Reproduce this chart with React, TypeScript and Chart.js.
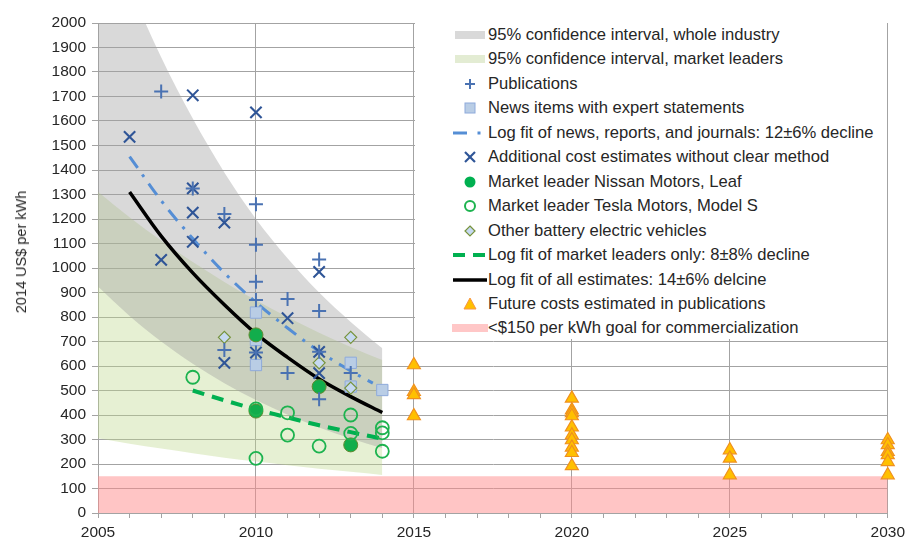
import React, { useEffect, useRef } from "react";
import { Chart, registerables } from "chart.js";

Chart.register(...registerables);

const FONT = "'Liberation Sans', Arial, Helvetica, sans-serif";
const GRID = "#a3a3a3";

// 95% confidence bands (value per year)
const bandYears = [2005, 2006, 2007, 2008, 2009, 2010, 2011, 2012, 2013, 2014];
const industryUpper = [2480, 2150, 1860, 1610, 1390, 1200, 1040, 900, 780, 672];
const industryLower = [924, 804, 700, 609, 530, 461, 401, 349, 304, 264];
const leadersUpper = [1311, 1207, 1112, 1024, 943, 868, 800, 736, 678, 624];
const leadersLower = [305, 283, 263, 244, 226, 210, 195, 181, 168, 155];

// Commercialization goal band
const goalYears = [2005, 2030];
const goalValues = [150, 150];

// Fit lines
const allFitYears = [2006, 2007, 2008, 2009, 2010, 2011, 2012, 2013, 2014];
const allFitValues = [1310, 1130, 980, 850, 732, 635, 547, 475, 410];
const newsFitYears = [2006, 2007, 2008, 2009, 2010, 2011, 2012, 2013, 2013.7];
const newsFitValues = [1455, 1275, 1120, 980, 860, 755, 660, 580, 530];
const leadersFitYears = [2008, 2009, 2010, 2011, 2012, 2013, 2014];
const leadersFitValues = [500, 460, 423, 390, 358, 330, 303];

// Publications (+)
const pubYears = [2007, 2008, 2009, 2009, 2010, 2010, 2010, 2010, 2010, 2011, 2011, 2012, 2012, 2012, 2012, 2013];
const pubValues = [1720, 1325, 1220, 665, 1260, 1095, 944, 869, 655, 873, 571, 1035, 824, 658, 464, 571];

// News items with expert statements (squares)
const newsYears = [2010, 2010, 2010, 2013, 2013, 2014];
const newsValues = [818, 706, 604, 613, 516, 502];

// Additional cost estimates without clear method (x)
const addYears = [2006, 2008, 2010, 2008, 2008, 2009, 2008, 2007, 2012, 2011, 2010, 2009, 2012, 2012];
const addValues = [1535, 1705, 1635, 1325, 1226, 1185, 1107, 1033, 984, 795, 655, 613, 658, 571];

// Nissan Leaf (filled circles)
const nissanYears = [2010, 2010, 2012, 2013];
const nissanValues = [727, 416, 516, 278];

// Tesla Model S (open circles)
const teslaYears = [2008, 2010, 2010, 2011, 2011, 2012, 2013, 2013, 2014, 2014, 2014];
const teslaValues = [554, 425, 223, 409, 318, 273, 400, 325, 348, 327, 252];

// Other battery electric vehicles (diamonds)
const otherYears = [2009, 2013, 2012, 2013];
const otherValues = [717, 717, 613, 510];

// Future costs estimated in publications (triangles)
const futureYears = [2015, 2015, 2015, 2015, 2020, 2020, 2020, 2020, 2020, 2020, 2020, 2020, 2020, 2020, 2025, 2025, 2025, 2030, 2030, 2030, 2030, 2030, 2030];
const futureValues = [604, 495, 482, 396, 468, 420, 409, 396, 350, 318, 298, 268, 246, 192, 257, 223, 155, 298, 278, 250, 237, 209, 155];

const legendLabels = [
  "95% confidence interval, whole industry",
  "95% confidence interval, market leaders",
  "Publications",
  "News items with expert statements",
  "Log fit of news, reports, and journals: 12±6% decline",
  "Additional cost estimates without clear method",
  "Market leader Nissan Motors, Leaf",
  "Market leader Tesla Motors, Model S",
  "Other battery electric vehicles",
  "Log fit of market leaders only: 8±8% decline",
  "Log fit of all estimates: 14±6% delcine",
  "Future costs estimated in publications",
  "<$150 per kWh goal for commercialization",
];

const pts = (xs: number[], ys: number[]) => xs.map((x, i) => ({ x, y: ys[i] }));

function LegendIcon({ i }: { i: number }) {
  let el: any = null;
  switch (i) {
    case 0:
      el = <rect x={3} y={6} width={30} height={8} fill="#d9d9d9" />;
      break;
    case 1:
      el = <rect x={3} y={6} width={30} height={8} fill="#e3ecd3" />;
      break;
    case 2:
      el = (
        <g stroke="#4a72b2" strokeWidth={2}>
          <line x1={13} y1={10} x2={23} y2={10} />
          <line x1={18} y1={5} x2={18} y2={15} />
        </g>
      );
      break;
    case 3:
      el = <rect x={13} y={5} width={10} height={10} fill="#b9cde5" stroke="#8eaadb" strokeWidth={1} />;
      break;
    case 4:
      el = (
        <g>
          <line x1={1} y1={10} x2={15} y2={10} stroke="#558ed5" strokeWidth={3} />
          <rect x={25.5} y={8.5} width={3} height={3} fill="#558ed5" />
        </g>
      );
      break;
    case 5:
      el = (
        <g stroke="#2f5597" strokeWidth={2.2}>
          <line x1={13} y1={5} x2={23} y2={15} />
          <line x1={23} y1={5} x2={13} y2={15} />
        </g>
      );
      break;
    case 6:
      el = <circle cx={18} cy={10} r={5.5} fill="#00b050" />;
      break;
    case 7:
      el = <circle cx={18} cy={10} r={5} fill="#fff" stroke="#1db34f" strokeWidth={2} />;
      break;
    case 8:
      el = <polygon points="18,5 23,10 18,15 13,10" fill="#c6d9f1" stroke="#77933c" strokeWidth={1.2} />;
      break;
    case 9:
      el = (
        <g stroke="#00b050" strokeWidth={4}>
          <line x1={1} y1={10} x2={13} y2={10} />
          <line x1={21} y1={10} x2={33} y2={10} />
        </g>
      );
      break;
    case 10:
      el = <line x1={1} y1={10} x2={35} y2={10} stroke="#000" strokeWidth={3.5} />;
      break;
    case 11:
      el = <polygon points="18,4 24,15 12,15" fill="#ffc000" stroke="#f79646" strokeWidth={1} />;
      break;
    case 12:
      el = <rect x={0} y={6} width={36} height={8} fill="#ffc7c7" />;
      break;
  }
  return (
    <svg width={36} height={20} style={{ position: "absolute", left: 37, top: 0 }}>
      {el}
    </svg>
  );
}

export default function App() {
  const ref = useRef<HTMLCanvasElement | null>(null);

  useEffect(() => {
    if (!ref.current) return;
    const pointBase = { showLine: false, clip: false as any, order: 1 };
    const lineBase = {
      showLine: true,
      pointRadius: 0,
      pointHoverRadius: 0,
      fill: false,
      cubicInterpolationMode: "monotone" as const,
      order: 5,
    };
    const bandBase = {
      showLine: true,
      pointRadius: 0,
      pointHoverRadius: 0,
      borderWidth: 0,
      borderColor: "rgba(0,0,0,0)",
      cubicInterpolationMode: "monotone" as const,
    };
    const chart = new Chart(ref.current, {
      type: "scatter",
      data: {
        datasets: [
          { ...bandBase, label: legendLabels[0], data: pts(bandYears, industryUpper), fill: "+1", backgroundColor: "rgba(160,160,160,0.4)", order: 20 },
          { ...bandBase, label: "industry lower", data: pts(bandYears, industryLower), fill: false, order: 20 },
          { ...bandBase, label: legendLabels[1], data: pts(bandYears, leadersUpper), fill: "+1", backgroundColor: "rgba(190,215,140,0.38)", order: 22 },
          { ...bandBase, label: "leaders lower", data: pts(bandYears, leadersLower), fill: false, order: 22 },
          { ...bandBase, label: legendLabels[12], data: pts(goalYears, goalValues), fill: "origin", backgroundColor: "rgba(255,140,140,0.5)", cubicInterpolationMode: "default" as const, order: 19 },
          { ...lineBase, label: legendLabels[9], data: pts(leadersFitYears, leadersFitValues), borderColor: "#00b050", borderWidth: 4, borderDash: [12, 8] },
          { ...lineBase, label: legendLabels[4], data: pts(newsFitYears, newsFitValues), borderColor: "#558ed5", borderWidth: 3, borderDash: [14, 8, 3, 8] },
          { ...lineBase, label: legendLabels[10], data: pts(allFitYears, allFitValues), borderColor: "#000", borderWidth: 3.5 },
          { ...pointBase, label: legendLabels[8], data: pts(otherYears, otherValues), pointStyle: "rectRot", pointRadius: 6, pointHoverRadius: 6, pointBackgroundColor: "#c6d9f1", pointBorderColor: "#77933c", pointBorderWidth: 1.2, order: 3 },
          { ...pointBase, label: legendLabels[3], data: pts(newsYears, newsValues), pointStyle: "rect", pointRadius: 8, pointHoverRadius: 8, pointBackgroundColor: "#b9cde5", pointBorderColor: "#8eaadb", pointBorderWidth: 1, order: 3 },
          { ...pointBase, label: legendLabels[2], data: pts(pubYears, pubValues), pointStyle: "cross", pointRadius: 7, pointHoverRadius: 7, pointBorderColor: "#4a72b2", pointBackgroundColor: "#4a72b2", pointBorderWidth: 2 },
          { ...pointBase, label: legendLabels[5], data: pts(addYears, addValues), pointStyle: "crossRot", pointRadius: 8, pointHoverRadius: 8, pointBorderColor: "#2f5597", pointBackgroundColor: "#2f5597", pointBorderWidth: 2.1 },
          { ...pointBase, label: legendLabels[7], data: pts(teslaYears, teslaValues), pointStyle: "circle", pointRadius: 6.5, pointHoverRadius: 6.5, pointBackgroundColor: "rgba(0,0,0,0)", pointBorderColor: "#1db34f", pointBorderWidth: 1.8 },
          { ...pointBase, label: legendLabels[6], data: pts(nissanYears, nissanValues), pointStyle: "circle", pointRadius: 7, pointHoverRadius: 7, pointBackgroundColor: "#12ad4c", pointBorderColor: "#5f8a2e", pointBorderWidth: 1 },
          { ...pointBase, label: legendLabels[11], data: pts(futureYears, futureValues), pointStyle: "triangle", pointRadius: 7.5, pointHoverRadius: 7.5, pointBackgroundColor: "#ffc000", pointBorderColor: "#f0901e", pointBorderWidth: 1.2 },
        ],
      },
      options: {
        animation: false,
        responsive: false,
        devicePixelRatio: 1,
        layout: { padding: { left: 0, right: 22, top: 23, bottom: 0 } },
        plugins: { legend: { display: false }, tooltip: { enabled: false } },
        scales: {
          x: {
            type: "linear",
            min: 2005,
            max: 2030,
            afterFit: (s: any) => {
              s.height = 29;
            },
            ticks: {
              stepSize: 1,
              autoSkip: false,
              maxRotation: 0,
              padding: 5,
              color: "#262626",
              font: { family: FONT, size: 15.5 },
              callback: (v: any) => (Number(v) % 5 === 0 ? String(v) : ""),
            },
            grid: {
              color: (c: any) => (c.tick && c.tick.value % 5 === 0 ? GRID : "rgba(0,0,0,0)"),
              tickColor: GRID,
              tickLength: 5,
              lineWidth: 1,
            },
            border: { display: true, color: GRID },
          },
          y: {
            type: "linear",
            min: 0,
            max: 2000,
            afterFit: (s: any) => {
              s.width = 98;
            },
            ticks: {
              stepSize: 100,
              padding: 6,
              color: "#262626",
              font: { family: FONT, size: 15.5 },
              callback: (v: any) => String(v),
            },
            grid: { color: GRID, tickColor: GRID, tickLength: 6, lineWidth: 1 },
            border: { display: true, color: GRID },
          },
        },
      },
    });
    return () => chart.destroy();
  }, []);

  return (
    <div style={{ position: "absolute", left: 0, top: 0, width: 910, height: 542, background: "#fff", fontFamily: FONT, overflow: "hidden" }}>
      <canvas ref={ref} width={910} height={542} style={{ display: "block", width: 910, height: 542 }} />
      <div
        style={{
          position: "absolute",
          left: 21,
          top: 252,
          transform: "translate(-50%, -50%) rotate(-90deg)",
          whiteSpace: "nowrap",
          fontSize: 14.5,
          color: "#262626",
        }}
      >
        2014 US$ per kWh
      </div>
      <div style={{ position: "absolute", left: 415, top: 23, width: 472, height: 316, background: "#fff" }}>
        {legendLabels.map((t, i) => (
          <div key={i} style={{ position: "absolute", left: 0, top: 35 - 23 + i * 24.45 - 10, height: 20, width: 472 }}>
            <LegendIcon i={i} />
            <span style={{ position: "absolute", left: 73, top: 0, lineHeight: "20px", fontSize: 16.6, color: "#262626", whiteSpace: "nowrap" }}>{t}</span>
          </div>
        ))}
      </div>
    </div>
  );
}
